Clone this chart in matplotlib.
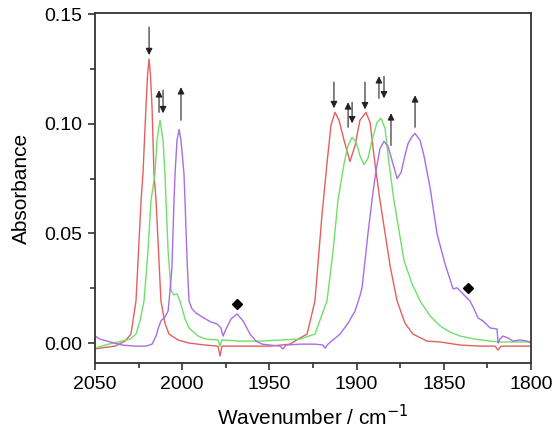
import numpy as np
import matplotlib
matplotlib.use("Agg")
import matplotlib.pyplot as plt
from matplotlib.ticker import MultipleLocator, FormatStrFormatter

plt.rcParams['font.family'] = ['Liberation Sans', 'DejaVu Sans']

# spectra (wavenumber / cm-1, absorbance)
red_x = [2050.0, 2047.1, 2038.5, 2032.8, 2029.4, 2026.5, 2023.6, 2022.5, 2020.8, 2019.9, 2019.0,
         2018.2, 2017.3, 2016.2, 2015.0, 2012.2, 2009.9, 2007.6, 2002.4, 1996.1, 1986.9, 1979.5,
         1978.3, 1977.2, 1966.9, 1949.7, 1938.2, 1932.5, 1928.4, 1923.9, 1919.8, 1917.0, 1914.7,
         1912.4, 1910.1, 1907.2, 1903.8, 1900.9, 1898.1, 1894.6, 1892.3, 1889.5, 1886.6, 1880.8,
         1876.8, 1872.3, 1867.7, 1859.6, 1852.2, 1840.7, 1829.2, 1820.6, 1818.9, 1817.2, 1800.0]
red_y = [-0.0027, -0.0023, -0.0014, 0.0009, 0.0041, 0.0192, 0.0650, 0.0773, 0.1075, 0.1221, 0.1295,
         0.1221, 0.1075, 0.0773, 0.0650, 0.0192, 0.0091, 0.0041, 0.0014, 0.0000, -0.0009, -0.0014,
         -0.0059, -0.0014, -0.0014, -0.0014, -0.0005, 0.0023, 0.0041, 0.0192, 0.0590, 0.0819, 0.0993,
         0.1052, 0.1016, 0.0924, 0.0828, 0.0901, 0.1016, 0.1052, 0.1006, 0.0819, 0.0650, 0.0352,
         0.0192, 0.0091, 0.0041, 0.0009, 0.0005, -0.0009, -0.0014, -0.0014, -0.0032, -0.0014, -0.0014]

green_x = [2050.0, 2044.3, 2034.5, 2029.9, 2026.5, 2024.2, 2021.9, 2019.6, 2017.9, 2015.6, 2014.5,
           2012.7, 2011.0, 2009.9, 2009.3, 2008.1, 2006.4, 2004.7, 2003.0, 2001.3, 1998.4, 1996.1,
           1990.9, 1986.4, 1979.5, 1978.3, 1977.2, 1966.9, 1954.2, 1943.9, 1932.5, 1923.9, 1917.0,
           1913.5, 1910.7, 1907.2, 1904.9, 1902.6, 1900.3, 1898.1, 1895.8, 1893.5, 1891.2, 1888.3,
           1886.0, 1883.7, 1881.4, 1878.6, 1872.8, 1868.2, 1863.6, 1857.9, 1852.2, 1846.4, 1840.7,
           1832.1, 1823.5, 1818.9, 1800.0]
green_y = [-0.0023, -0.0009, 0.0009, 0.0018, 0.0041, 0.0101, 0.0192, 0.0421, 0.0650, 0.0773, 0.0924,
           0.1016, 0.0924, 0.0773, 0.0650, 0.0421, 0.0238, 0.0220, 0.0224, 0.0192, 0.0110, 0.0069,
           0.0032, 0.0018, 0.0014, -0.0014, 0.0014, 0.0009, 0.0009, 0.0014, 0.0018, 0.0041, 0.0192,
           0.0421, 0.0650, 0.0819, 0.0901, 0.0938, 0.0915, 0.0855, 0.0814, 0.0842, 0.0924, 0.1006,
           0.1025, 0.0979, 0.0819, 0.0650, 0.0375, 0.0270, 0.0192, 0.0124, 0.0078, 0.0050, 0.0032,
           0.0018, 0.0009, 0.0005, 0.0005]

purple_x = [2050.0, 2047.1, 2041.4, 2034.5, 2027.1, 2020.8, 2017.3, 2015.0, 2013.9, 2012.2, 2009.9,
            2008.1, 2007.0, 2005.9, 2004.7, 2004.1, 2003.0, 2001.8, 2000.7, 1999.0, 1998.4, 1997.2,
            1996.1, 1994.4, 1992.1, 1987.5, 1983.5, 1980.0, 1977.8, 1976.6, 1974.9, 1972.0, 1968.6,
            1965.1, 1961.1, 1957.7, 1954.2, 1949.7, 1943.9, 1942.2, 1940.5, 1932.5, 1923.9, 1919.3,
            1918.1, 1916.4, 1909.5, 1904.9, 1900.9, 1898.1, 1896.9, 1895.2, 1893.5, 1891.2, 1888.9,
            1886.6, 1884.3, 1882.0, 1879.7, 1876.8, 1874.5, 1872.3, 1870.5, 1868.2, 1866.5, 1863.6,
            1861.4, 1857.9, 1853.9, 1849.3, 1844.7, 1842.4, 1839.0, 1835.0, 1832.7, 1830.4, 1827.5,
            1823.5, 1819.5, 1818.9, 1817.8, 1816.1, 1813.2, 1810.3, 1806.3, 1802.3, 1800.0]
purple_y = [0.0032, 0.0018, 0.0005, -0.0009, -0.0014, -0.0014, -0.0005, 0.0032, 0.0064, 0.0101, 0.0119,
            0.0146, 0.0238, 0.0343, 0.0650, 0.0773, 0.0924, 0.0974, 0.0924, 0.0773, 0.0650, 0.0375,
            0.0192, 0.0156, 0.0137, 0.0114, 0.0096, 0.0087, 0.0069, 0.0032, 0.0064, 0.0110, 0.0133,
            0.0101, 0.0041, 0.0009, -0.0005, -0.0009, -0.0014, -0.0027, -0.0009, -0.0005, -0.0005, -0.0009,
            -0.0023, -0.0005, 0.0041, 0.0091, 0.0146, 0.0215, 0.0252, 0.0375, 0.0499, 0.0650, 0.0787,
            0.0887, 0.0920, 0.0897, 0.0833, 0.0750, 0.0778, 0.0855, 0.0910, 0.0942, 0.0956, 0.0924,
            0.0855, 0.0709, 0.0499, 0.0361, 0.0247, 0.0252, 0.0224, 0.0192, 0.0156, 0.0114, 0.0101,
            0.0069, 0.0064, 0.0000, 0.0018, 0.0032, 0.0023, 0.0009, 0.0014, 0.0009, 0.0000]

# arrows: x, y of tail, y of head
arrow_x = [2019.0, 2013.3, 2011.0, 2000.7, 1913.0, 1904.9, 1902.6, 1895.2, 1887.2, 1884.3, 1880.3, 1866.5]
arrow_tail = [0.1441, 0.1052, 0.1153, 0.1016, 0.1190, 0.0984, 0.1098, 0.1190, 0.1116, 0.1217, 0.0901, 0.0984]
arrow_head = [0.1313, 0.1153, 0.1048, 0.1167, 0.1071, 0.1098, 0.1002, 0.1066, 0.1217, 0.1116, 0.1048, 0.1130]

# diamonds
dia_x = [1968.6, 1836.1]
dia_y = [0.0178, 0.0252]

fig = plt.figure(figsize=(5.55, 4.37), dpi=100)
ax = fig.add_axes([0.1712, 0.1693, 0.7856, 0.8009])

ax.plot(red_x, red_y, color='#e3605e', lw=1.0)
ax.plot(green_x, green_y, color='#6fe06a', lw=1.0)
ax.plot(purple_x, purple_y, color='#a66ee6', lw=1.0)

for x, t, h in zip(arrow_x, arrow_tail, arrow_head):
    ax.annotate('', xy=(x, h), xytext=(x, t),
                arrowprops=dict(arrowstyle='-|>', color='#222222', lw=0.8,
                                mutation_scale=10, shrinkA=0, shrinkB=0))

ax.plot(dia_x, dia_y, 'D', color='black', ms=5.5)

ax.set_xlim(2050, 1800)
ax.set_ylim(-0.0091, 0.1505)
ax.xaxis.set_major_locator(MultipleLocator(50))
ax.xaxis.set_minor_locator(MultipleLocator(25))
ax.yaxis.set_major_locator(MultipleLocator(0.05))
ax.yaxis.set_minor_locator(MultipleLocator(0.025))
ax.yaxis.set_major_formatter(FormatStrFormatter('%.2f'))
ax.tick_params(which='both', direction='out', top=False, right=False,
               color='#333333', width=1.2, labelsize=14)
ax.tick_params(which='major', length=5, pad=4)
ax.tick_params(which='minor', length=3.5)
for s in ax.spines.values():
    s.set_color('#333333')
    s.set_linewidth(1.3)

ax.set_xlabel('Wavenumber / cm$^{-1}$', fontsize=15, labelpad=8)
ax.set_ylabel('Absorbance', fontsize=15, labelpad=10)

fig.savefig('out.png', dpi=100)
